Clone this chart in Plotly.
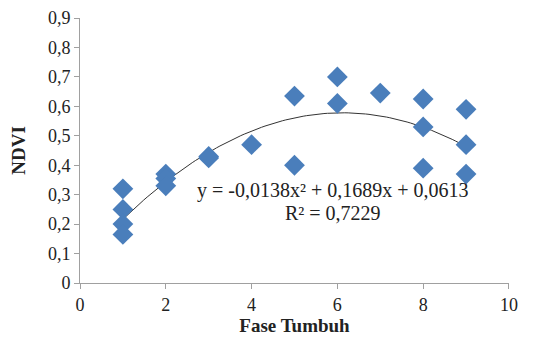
import plotly.graph_objects as go
import numpy as np

fase = [1, 1, 1, 1, 2, 2, 2, 3, 3, 4, 5, 5, 6, 6, 7, 8, 8, 8, 9, 9, 9]
ndvi = [0.32, 0.25, 0.20, 0.165, 0.37, 0.355, 0.33, 0.43, 0.425, 0.47,
        0.635, 0.40, 0.70, 0.61, 0.645, 0.625, 0.53, 0.39, 0.59, 0.47, 0.37]
coef = [-0.0138, 0.1689, 0.0613]  # trendline coefficients (x^2, x, 1)
eq_text = "y = -0,0138x² + 0,1689x + 0,0613"
r2_text = "R² = 0,7229"

xt = np.linspace(min(fase), max(fase), 100)
yt = np.polyval(coef, xt)

font = "Liberation Serif"

fig = go.Figure()
fig.add_trace(go.Scatter(x=xt, y=yt, mode="lines",
                         line=dict(color="#333333", width=1), hoverinfo="skip"))
fig.add_trace(go.Scatter(x=fase, y=ndvi, mode="markers",
                         marker=dict(symbol="diamond", size=16, color="#4a7ebb")))

fig.add_annotation(x=5.9, y=0.315, xref="x", yref="y", text=eq_text, showarrow=False,
                   font=dict(family=font, size=20, color="#222"))
fig.add_annotation(x=5.9, y=0.238, xref="x", yref="y", text=r2_text, showarrow=False,
                   font=dict(family=font, size=20, color="#222"))

fig.update_layout(
    width=525, height=333,
    margin=dict(l=72, r=24, t=10, b=58, autoexpand=False),
    paper_bgcolor="white", plot_bgcolor="white",
    showlegend=False,
    separators=", ",
    font=dict(family=font, size=18, color="#222"),
)
fig.update_xaxes(range=[0, 10.001], dtick=2, showline=True, linecolor="#a0a0a0", linewidth=1,
                 ticks="outside", ticklen=5, tickcolor="#a0a0a0", showgrid=False, zeroline=False,
                 automargin=False, ticklabeloverflow="allow",
                 title=dict(text="<b>Fase Tumbuh</b>", font=dict(family=font, size=19), standoff=4))
fig.update_yaxes(range=[0, 0.9001], dtick=0.1, tickformat=".1~f", showline=True, linecolor="#a0a0a0", linewidth=1,
                 ticks="outside", ticklen=5, tickcolor="#a0a0a0", showgrid=False, zeroline=False,
                 automargin=False, ticklabeloverflow="allow",
                 title=dict(text="<b>NDVI</b>", font=dict(family=font, size=19), standoff=18))

fig.write_html("out.html")
